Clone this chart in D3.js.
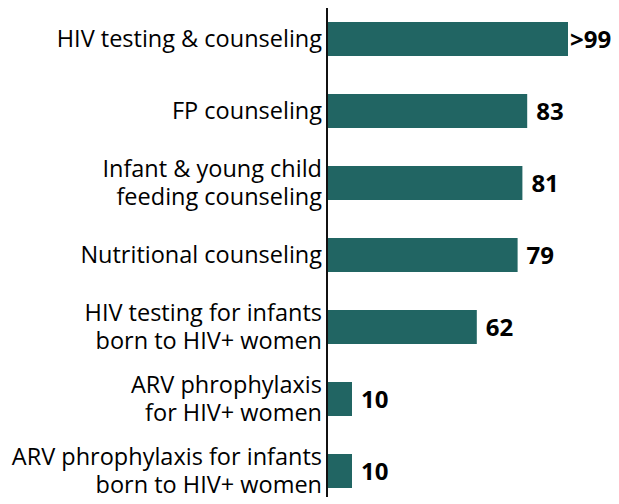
<!DOCTYPE html>
<html>
<head>
<meta charset="utf-8">
<script src="https://cdn.jsdelivr.net/npm/d3@7"></script>
<style>
  body { margin: 0; background: #fff; }
  text { font-family: "Open Sans", sans-serif; fill: #000; }
</style>
</head>
<body>
<svg id="chart"></svg>
<script>
// categories (each entry is the lines of the label)
const categories = [
  ["HIV testing & counseling"],
  ["FP counseling"],
  ["Infant & young child", "feeding counseling"],
  ["Nutritional counseling"],
  ["HIV testing for infants", "born to HIV+ women"],
  ["ARV phrophylaxis", "for HIV+ women"],
  ["ARV phrophylaxis for infants", "born to HIV+ women"]
];
const values = [100, 83, 81, 79, 62, 10, 10];
const valueLabels = [">99", "83", "81", "79", "62", "10", "10"];

const width = 619, height = 504;
const axisX = 327;

const svg = d3.select("#chart")
    .attr("width", width)
    .attr("height", height);

const keys = categories.map(d => d.join(" "));

const y = d3.scaleBand()
    .domain(keys)
    .range([3, 507])
    .paddingInner(38 / 72)
    .paddingOuter(19 / 72);

const x = d3.scaleLinear()
    .domain([0, 100])
    .range([axisX + 1, axisX + 241]);

// bars
svg.selectAll("rect.bar")
  .data(values)
  .join("rect")
    .attr("class", "bar")
    .attr("x", x(0))
    .attr("y", (d, i) => y(keys[i]))
    .attr("width", d => x(d) - x(0))
    .attr("height", y.bandwidth())
    .attr("fill", "#216563");

// value labels
svg.selectAll("text.val")
  .data(values)
  .join("text")
    .attr("class", "val")
    .attr("x", (d, i) => x(d) + (valueLabels[i][0] === ">" ? 2 : 9))
    .attr("y", (d, i) => y(keys[i]) + y.bandwidth() / 2)
    .attr("dy", "0.36em")
    .style("font-size", "24px")
    .style("font-weight", "bold")
    .text((d, i) => valueLabels[i]);

// category labels
const lineH = 28;
const cat = svg.selectAll("text.cat")
  .data(categories)
  .join("text")
    .attr("class", "cat")
    .attr("text-anchor", "end")
    .style("font-size", "23.5px")
    .attr("y", (d, i) => y(keys[i]) + y.bandwidth() / 2 - (d.length - 1) * lineH / 2);

cat.selectAll("tspan")
  .data(d => d)
  .join("tspan")
    .attr("x", axisX - 5)
    .attr("dy", (d, i) => i === 0 ? "0.35em" : lineH)
    .text(d => d);

// axis line
svg.append("line")
    .attr("x1", axisX).attr("x2", axisX)
    .attr("y1", 8).attr("y2", 497)
    .attr("stroke", "#111")
    .attr("stroke-width", 2);
</script>
</body>
</html>
